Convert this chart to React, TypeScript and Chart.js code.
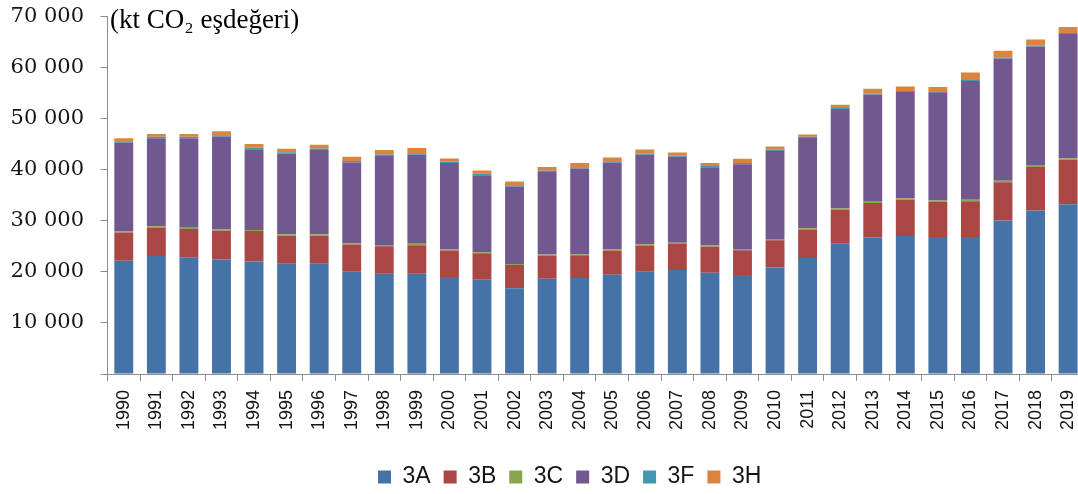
import React, { useEffect, useRef } from 'react';
import { Chart, registerables } from 'chart.js';

Chart.register(...registerables);

// ---------- data ----------
const years = [
  '1990', '1991', '1992', '1993', '1994', '1995', '1996', '1997', '1998', '1999',
  '2000', '2001', '2002', '2003', '2004', '2005', '2006', '2007', '2008', '2009',
  '2010', '2011', '2012', '2013', '2014', '2015', '2016', '2017', '2018', '2019',
];

const s3A = [22200, 23100, 22850, 22450, 22050, 21600, 21600, 20050, 19650, 19650,
  19000, 18550, 16800, 18650, 18800, 19450, 20050, 20350, 19850, 19400,
  20850, 22700, 25600, 26750, 27050, 26850, 26850, 30050, 32000, 33250];
const s3B = [5500, 5600, 5550, 5600, 5950, 5500, 5500, 5300, 5350, 5550,
  5200, 5100, 4550, 4550, 4450, 4750, 5100, 5100, 5050, 4850,
  5350, 5600, 6600, 6750, 7100, 6900, 7000, 7500, 8550, 8700];
const s3C = [200, 250, 250, 250, 200, 250, 250, 200, 250, 300,
  200, 200, 200, 200, 200, 250, 250, 250, 250, 250,
  250, 250, 250, 250, 250, 250, 300, 300, 400, 300];
const s3D = [17400, 17200, 17500, 18150, 15800, 15850, 16500, 15850, 17450, 17450,
  16950, 15100, 15150, 16150, 16800, 16950, 17550, 16850, 15350, 16600,
  17250, 17650, 19450, 21000, 20850, 21200, 23250, 23950, 23200, 24350];
const s3F = [300, 300, 300, 300, 300, 250, 300, 300, 300, 300,
  250, 250, 250, 250, 250, 250, 250, 250, 250, 250,
  250, 250, 200, 200, 200, 200, 200, 200, 200, 200];
const s3H = [550, 550, 550, 800, 750, 650, 750, 850, 850, 1000,
  600, 650, 750, 750, 850, 750, 750, 600, 600, 800,
  600, 450, 650, 900, 850, 800, 1450, 1300, 1150, 1150];

const seriesNames = ['3A', '3B', '3C', '3D', '3F', '3H'];
const seriesValues = [s3A, s3B, s3C, s3D, s3F, s3H];
const seriesColors = ['#4572A7', '#AA4643', '#89A54E', '#71588F', '#4198AF', '#DB843D'];

const yMax = 70000;
const yStep = 10000;
const unitLabel = '(kt CO₂ eşdeğeri)';

// ---------- helpers ----------
const fmt = (v: number) => {
  const s = String(Math.round(v));
  return s.replace(/\B(?=(\d{3})+(?!\d))/g, ' ');
};

const AXIS_GRAY = '#8c8c8c';
const TEXT = '#141414';

const unitTitlePlugin = {
  id: 'unitTitle',
  afterDraw(chart: any) {
    const ctx = chart.ctx;
    ctx.save();
    ctx.font = '27px "Liberation Serif", "Times New Roman", serif';
    ctx.fillStyle = '#000';
    ctx.textAlign = 'left';
    ctx.textBaseline = 'alphabetic';
    ctx.fillText(unitLabel, 110, 28);
    ctx.restore();
  },
};

const legendPlacePlugin = {
  id: 'legendPlace',
  afterLayout(chart: any) {
    const L = chart.legend;
    if (!L) return;
    const w = L.right - L.left;
    const h = L.bottom - L.top;
    L.left = 365;
    L.right = 365 + w;
    L.top = 452.5;
    L.bottom = L.top + h;
  },
};

export default function App() {
  const canvasRef = useRef<HTMLCanvasElement | null>(null);

  useEffect(() => {
    const canvas = canvasRef.current;
    if (!canvas) return;
    const chart = new Chart(canvas, {
      type: 'bar',
      data: {
        labels: years,
        datasets: seriesNames.map((name, i) => ({
          label: name,
          data: seriesValues[i],
          backgroundColor: seriesColors[i],
          borderWidth: 0,
          barPercentage: 0.58,
          categoryPercentage: 1.0,
        })),
      },
      options: {
        responsive: false,
        animation: false,
        layout: { padding: { top: 16.6, right: 5.6, bottom: 0, left: 0 } },
        plugins: {
          legend: {
            position: 'bottom',
            align: 'start',
            labels: {
              boxWidth: 13,
              boxHeight: 13,
              padding: 13,
              color: TEXT,
              font: { family: '"Liberation Sans", Arial, sans-serif', size: 23 },
            },
          },
          tooltip: { enabled: false },
          title: { display: false },
        },
        scales: {
          x: {
            stacked: true,
            offset: true,
            grid: {
              display: true,
              drawOnChartArea: false,
              drawTicks: true,
              tickLength: 7,
              color: AXIS_GRAY,
              offset: true,
            },
            border: { display: true, color: AXIS_GRAY, width: 1 },
            ticks: {
              autoSkip: false,
              maxRotation: 90,
              minRotation: 90,
              padding: 9,
              color: TEXT,
              font: { family: '"Liberation Sans", Arial, sans-serif', size: 18 },
            },
            afterFit: (s: any) => {
              s.height = 74;
              s.paddingLeft = 0;
              s.paddingRight = 0;
            },
          },
          y: {
            stacked: true,
            min: 0,
            max: yMax,
            grid: {
              display: true,
              drawOnChartArea: false,
              drawTicks: true,
              tickLength: 7,
              color: AXIS_GRAY,
            },
            border: { display: true, color: AXIS_GRAY, width: 1 },
            ticks: {
              stepSize: yStep,
              padding: 16.5,
              color: TEXT,
              font: { family: '"DejaVu Serif", serif', size: 21 },
              callback: (v: any) => (Number(v) === 0 ? '' : fmt(Number(v))),
            },
            afterFit: (s: any) => {
              s.width = 107.5;
              s.paddingTop = 0;
              s.paddingBottom = 0;
            },
          },
        },
      },
      plugins: [unitTitlePlugin, legendPlacePlugin],
    } as any);
    return () => chart.destroy();
  }, []);

  return (
    <div style={{ position: 'fixed', left: 0, top: 0, width: 1078, height: 494, overflow: 'hidden', background: '#fff' }}>
      <canvas ref={canvasRef} width={1090} height={494} style={{ display: 'block', width: 1090, height: 494 }} />
    </div>
  );
}
